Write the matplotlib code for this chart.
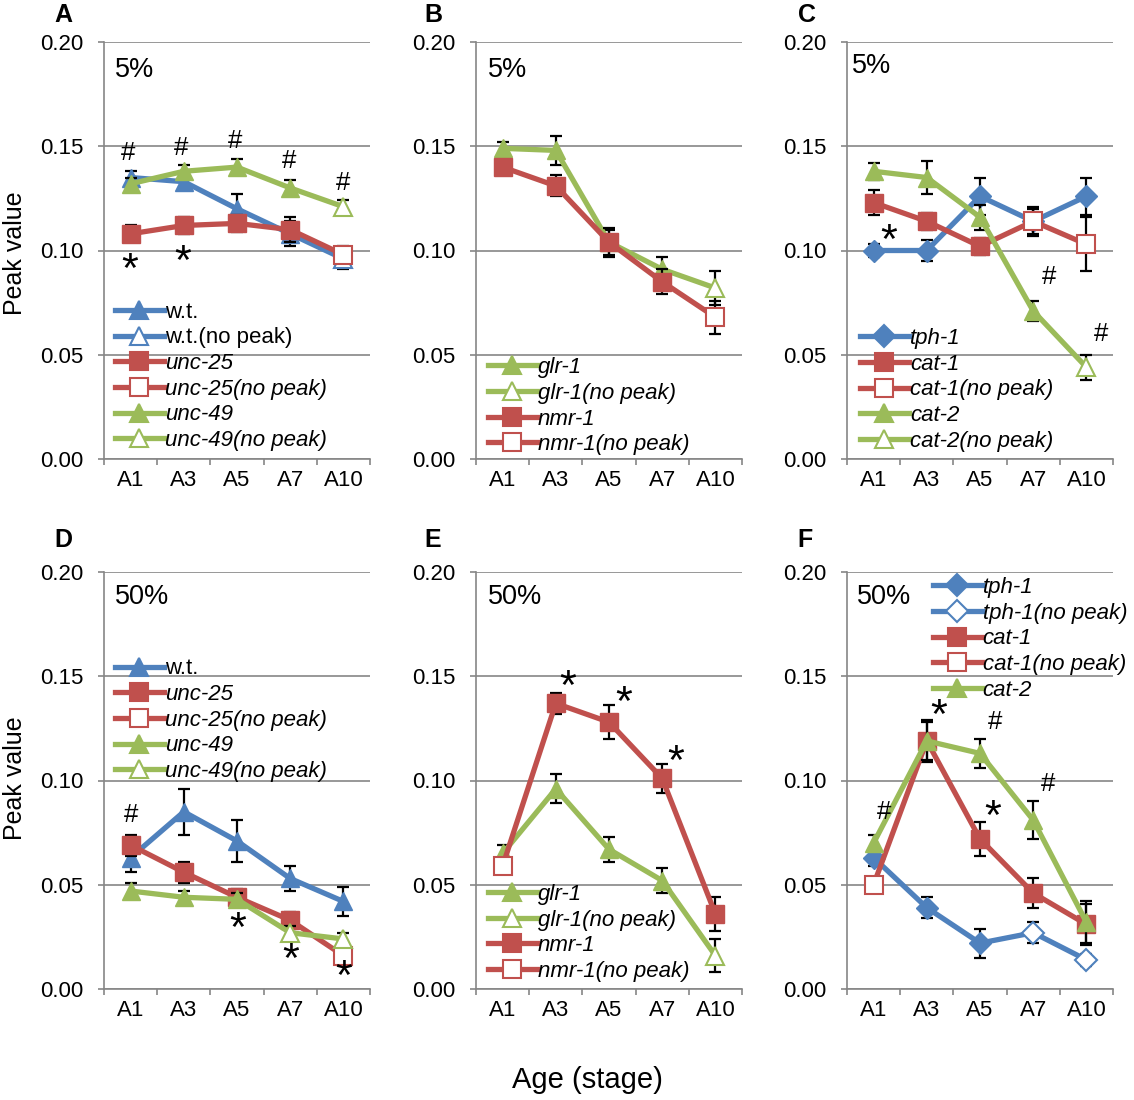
import numpy as np
import matplotlib
matplotlib.use('Agg')
import matplotlib.pyplot as plt
from matplotlib.lines import Line2D

plt.rcParams['font.family'] = ['Liberation Sans', 'DejaVu Sans']

stages = ['A1', 'A3', 'A5', 'A7', 'A10']
BLUE, RED, GREEN = '#4F81BD', '#C0504D', '#9BBB59'
GRAY = '#868686'

# ---- panel A (5%) ----
a_wt = [0.135, 0.133, 0.120, 0.108, 0.096]
a_wt_err = [0.003, 0.003, 0.007, 0.006, 0.005]
a_wt_open = [0, 0, 0, 0, 1]
a_unc25 = [0.108, 0.112, 0.113, 0.110, 0.098]
a_unc25_err = [0.004, 0.004, 0.004, 0.006, 0.004]
a_unc25_open = [0, 0, 0, 0, 1]
a_unc49 = [0.132, 0.138, 0.140, 0.130, 0.121]
a_unc49_err = [0.003, 0.003, 0.004, 0.004, 0.003]
a_unc49_open = [0, 0, 0, 0, 1]

# ---- panel B (5%) ----
b_glr1 = [0.149, 0.148, 0.104, 0.091, 0.082]
b_glr1_err = [0.003, 0.007, 0.006, 0.006, 0.008]
b_glr1_open = [0, 0, 0, 0, 1]
b_nmr1 = [0.140, 0.131, 0.104, 0.085, 0.068]
b_nmr1_err = [0.003, 0.005, 0.007, 0.006, 0.008]
b_nmr1_open = [0, 0, 0, 0, 1]

# ---- panel C (5%) ----
c_tph1 = [0.100, 0.100, 0.126, 0.114, 0.126]
c_tph1_err = [0.003, 0.005, 0.009, 0.007, 0.009]
c_tph1_open = [0, 0, 0, 0, 0]
c_cat1 = [0.123, 0.114, 0.102, 0.114, 0.103]
c_cat1_err = [0.006, 0.004, 0.004, 0.006, 0.013]
c_cat1_open = [0, 0, 0, 1, 1]
c_cat2 = [0.138, 0.135, 0.116, 0.071, 0.044]
c_cat2_err = [0.004, 0.008, 0.006, 0.005, 0.006]
c_cat2_open = [0, 0, 0, 0, 1]

# ---- panel D (50%) ----
d_wt = [0.063, 0.085, 0.071, 0.053, 0.042]
d_wt_err = [0.007, 0.011, 0.010, 0.006, 0.007]
d_wt_open = [0, 0, 0, 0, 0]
d_unc25 = [0.069, 0.056, 0.044, 0.033, 0.016]
d_unc25_err = [0.005, 0.005, 0.004, 0.004, 0.004]
d_unc25_open = [0, 0, 0, 0, 1]
d_unc49 = [0.047, 0.044, 0.043, 0.027, 0.024]
d_unc49_err = [0.004, 0.003, 0.003, 0.003, 0.003]
d_unc49_open = [0, 0, 0, 1, 1]

# ---- panel E (50%) ----
e_glr1 = [0.065, 0.096, 0.067, 0.052, 0.016]
e_glr1_err = [0.004, 0.007, 0.006, 0.006, 0.008]
e_glr1_open = [0, 0, 0, 0, 1]
e_nmr1 = [0.059, 0.137, 0.128, 0.101, 0.036]
e_nmr1_err = [0.004, 0.005, 0.008, 0.007, 0.008]
e_nmr1_open = [1, 0, 0, 0, 0]

# ---- panel F (50%) ----
f_tph1 = [0.063, 0.039, 0.022, 0.027, 0.014]
f_tph1_err = [0.004, 0.005, 0.007, 0.005, 0.003]
f_tph1_open = [0, 0, 0, 1, 1]
f_cat1 = [0.050, 0.119, 0.072, 0.046, 0.031]
f_cat1_err = [0.003, 0.010, 0.008, 0.007, 0.010]
f_cat1_open = [1, 0, 0, 0, 0]
f_cat2 = [0.070, 0.119, 0.113, 0.081, 0.032]
f_cat2_err = [0.004, 0.009, 0.007, 0.009, 0.010]
f_cat2_open = [0, 0, 0, 0, 0]

# significance marks: (symbol, x index, y value)
a_marks = [('#', -0.04, 0.1473), ('#', 0.95, 0.1497), ('#', 1.97, 0.153), ('#', 2.97, 0.1436),
           ('#', 3.99, 0.1332), ('*', -0.02, 0.0962), ('*', 0.98, 0.1002)]
c_marks = [('*', 0.28, 0.110), ('#', 3.3, 0.0877), ('#', 4.27, 0.0607)]
d_marks = [('#', 0.0, 0.0839), ('*', 2.02, 0.0342), ('*', 3.01, 0.0195), ('*', 4.0, 0.0115)]
e_marks = [('*', 1.23, 0.1505), ('*', 2.27, 0.1425), ('*', 3.25, 0.1145)]
f_marks = [('#', 0.2, 0.0855), ('*', 1.23, 0.1366), ('#', 2.28, 0.1286), ('*', 2.24, 0.0882),
           ('#', 3.27, 0.099)]

fig = plt.figure(figsize=(11.34, 11), dpi=100)
lefts = [104, 476, 847]
W, H = 266 / 1134, 417 / 1100
bottoms = [1 - 459 / 1100, 1 - 989 / 1100]
x = np.arange(5)


def draw(ax, vals, err, opn, color, marker, ms, z):
    vals = np.array(vals)
    opn = np.array(opn, dtype=bool)
    ax.errorbar(x, vals, yerr=err, fmt='none', ecolor='black', elinewidth=1.6,
                capsize=4, capthick=1.6, zorder=z)
    ax.plot(x, vals, '-', color=color, lw=3.8, zorder=z + 0.1, solid_capstyle='round')
    ax.plot(x[~opn], vals[~opn], ls='none', marker=marker, ms=ms, color=color,
            mec=color, zorder=z + 0.2)
    ax.plot(x[opn], vals[opn], ls='none', marker=marker, ms=ms, mfc='white',
            mec=color, mew=1.5, zorder=z + 0.2)


def handle(color, marker, ms, filled=True):
    return Line2D([], [], color=color, lw=3.8, marker=marker, ms=ms,
                  mfc=color if filled else 'white', mec=color, mew=1.5)


def setup(ax, pct, px, py):
    ax.set_xlim(-0.5, 4.5)
    ax.set_ylim(0, 0.2)
    ax.set_yticks([0, 0.05, 0.10, 0.15, 0.20])
    ax.set_yticklabels(['0.00', '0.05', '0.10', '0.15', '0.20'])
    ax.set_xticks(np.arange(-0.5, 5, 1))
    ax.set_xticklabels([])
    ax.set_xticks(x, minor=True)
    ax.set_xticklabels(stages, minor=True)
    ax.tick_params(axis='x', which='major', length=4, width=1.2, color=GRAY, direction='out')
    ax.tick_params(axis='x', which='minor', length=0, pad=8, labelsize=16)
    ax.tick_params(axis='y', length=4, width=1.2, color=GRAY, pad=11, labelsize=16)
    ax.grid(axis='y', color=GRAY, lw=1.2)
    ax.set_axisbelow(True)
    for s in ['top', 'right']:
        ax.spines[s].set_visible(False)
    for s in ['left', 'bottom']:
        ax.spines[s].set_color(GRAY)
        ax.spines[s].set_linewidth(1.2)
    ax.text(px, py, pct, transform=ax.transAxes, fontsize=19.5, ha='left', va='center')


def legend(ax, handles, labels, italic, lx, ly):
    leg = ax.legend(handles, labels, loc='upper left', bbox_to_anchor=(lx, ly),
                    frameon=False, fontsize=16, borderpad=0, borderaxespad=0,
                    handlelength=2.2, handletextpad=0.05, labelspacing=0.21)
    for t, it in zip(leg.get_texts(), italic):
        if it:
            t.set_fontstyle('italic')


def marks(ax, items):
    for sym, mx, my in items:
        if sym == '*':
            ax.annotate('*', (mx, my), xytext=(0, -17), textcoords='offset points',
                        ha='center', va='baseline', fontsize=31, zorder=20)
        else:
            ax.annotate('#', (mx, my), xytext=(0, -6), textcoords='offset points',
                        ha='center', va='baseline', fontsize=18.5, zorder=20)


axes = []
for r in range(2):
    for c in range(3):
        ax = fig.add_axes([lefts[c] / 1134, bottoms[r], W, H])
        axes.append(ax)

TRI, SQ, DIA = 13.5, 12.5, 11
# A
ax = axes[0]
setup(ax, '5%', 0.041, 0.933)
draw(ax, a_wt, a_wt_err, a_wt_open, BLUE, '^', TRI, 3)
draw(ax, a_unc25, a_unc25_err, a_unc25_open, RED, 's', SQ, 4)
draw(ax, a_unc49, a_unc49_err, a_unc49_open, GREEN, '^', TRI, 5)
legend(ax, [handle(BLUE, '^', TRI), handle(BLUE, '^', TRI, False), handle(RED, 's', SQ),
            handle(RED, 's', SQ, False), handle(GREEN, '^', TRI), handle(GREEN, '^', TRI, False)],
       ['w.t.', 'w.t.(no peak)', 'unc-25', 'unc-25(no peak)', 'unc-49', 'unc-49(no peak)'],
       [0, 0, 1, 1, 1, 1], 0.041, 0.377)
marks(ax, a_marks)

# B
ax = axes[1]
setup(ax, '5%', 0.045, 0.933)
draw(ax, b_glr1, b_glr1_err, b_glr1_open, GREEN, '^', TRI, 3)
draw(ax, b_nmr1, b_nmr1_err, b_nmr1_open, RED, 's', SQ, 4)
legend(ax, [handle(GREEN, '^', TRI), handle(GREEN, '^', TRI, False), handle(RED, 's', SQ),
            handle(RED, 's', SQ, False)],
       ['glr-1', 'glr-1(no peak)', 'nmr-1', 'nmr-1(no peak)'], [1, 1, 1, 1], 0.045, 0.244)

# C
ax = axes[2]
setup(ax, '5%', 0.018, 0.943)
draw(ax, c_tph1, c_tph1_err, c_tph1_open, BLUE, 'D', DIA, 3)
draw(ax, c_cat1, c_cat1_err, c_cat1_open, RED, 's', SQ, 4)
draw(ax, c_cat2, c_cat2_err, c_cat2_open, GREEN, '^', TRI, 5)
legend(ax, [handle(BLUE, 'D', DIA), handle(RED, 's', SQ), handle(RED, 's', SQ, False),
            handle(GREEN, '^', TRI), handle(GREEN, '^', TRI, False)],
       ['tph-1', 'cat-1', 'cat-1(no peak)', 'cat-2', 'cat-2(no peak)'],
       [1, 1, 1, 1, 1], 0.049, 0.314)
marks(ax, c_marks)

# D
ax = axes[3]
setup(ax, '50%', 0.041, 0.94)
draw(ax, d_wt, d_wt_err, d_wt_open, BLUE, '^', TRI, 3)
draw(ax, d_unc25, d_unc25_err, d_unc25_open, RED, 's', SQ, 4)
draw(ax, d_unc49, d_unc49_err, d_unc49_open, GREEN, '^', TRI, 5)
legend(ax, [handle(BLUE, '^', TRI), handle(RED, 's', SQ), handle(RED, 's', SQ, False),
            handle(GREEN, '^', TRI), handle(GREEN, '^', TRI, False)],
       ['w.t.', 'unc-25', 'unc-25(no peak)', 'unc-49', 'unc-49(no peak)'],
       [0, 1, 1, 1, 1], 0.041, 0.793)
marks(ax, d_marks)

# E
ax = axes[4]
setup(ax, '50%', 0.045, 0.94)
draw(ax, e_glr1, e_glr1_err, e_glr1_open, GREEN, '^', TRI, 3)
draw(ax, e_nmr1, e_nmr1_err, e_nmr1_open, RED, 's', SQ, 4)
legend(ax, [handle(GREEN, '^', TRI), handle(GREEN, '^', TRI, False), handle(RED, 's', SQ),
            handle(RED, 's', SQ, False)],
       ['glr-1', 'glr-1(no peak)', 'nmr-1', 'nmr-1(no peak)'], [1, 1, 1, 1], 0.045, 0.252)
marks(ax, e_marks)

# F
ax = axes[5]
setup(ax, '50%', 0.036, 0.94)
draw(ax, f_tph1, f_tph1_err, f_tph1_open, BLUE, 'D', DIA, 3)
draw(ax, f_cat1, f_cat1_err, f_cat1_open, RED, 's', SQ, 4)
draw(ax, f_cat2, f_cat2_err, f_cat2_open, GREEN, '^', TRI, 5)
legend(ax, [handle(BLUE, 'D', DIA), handle(BLUE, 'D', DIA, False), handle(RED, 's', SQ),
            handle(RED, 's', SQ, False), handle(GREEN, '^', TRI)],
       ['tph-1', 'tph-1(no peak)', 'cat-1', 'cat-1(no peak)', 'cat-2'],
       [1, 1, 1, 1, 1], 0.322, 0.988)
marks(ax, f_marks)

# labels
fig.text(15 / 1134, 1 - 253 / 1100, 'Peak value', rotation=90, ha='center', va='center', fontsize=18)
fig.text(15 / 1134, 1 - 778 / 1100, 'Peak value', rotation=90, ha='center', va='center', fontsize=18)
fig.text(587 / 1134, 1 - 1080 / 1100, 'Age (stage)', ha='center', va='center', fontsize=21)
for lab, px, py in [('A', 63, 15), ('B', 433, 15), ('C', 807, 15),
                    ('D', 63, 540), ('E', 433, 540), ('F', 805, 540)]:
    fig.text(px / 1134, 1 - py / 1100, lab, ha='center', va='center', fontsize=18,
             fontweight='bold')

fig.savefig('out.png', dpi=100)
